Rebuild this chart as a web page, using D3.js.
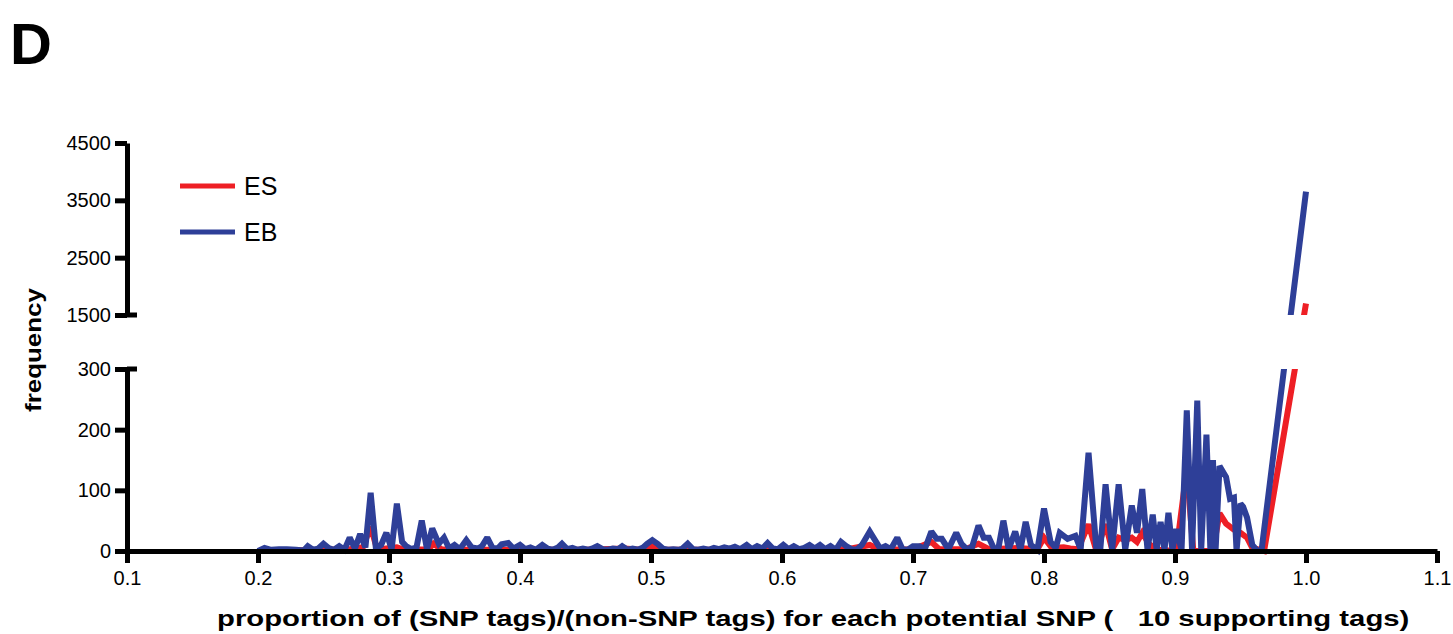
<!DOCTYPE html>
<html>
<head>
<meta charset="utf-8">
<script src="https://cdn.jsdelivr.net/npm/d3@7"></script>
<style>
  html, body { margin: 0; padding: 0; background: #fff; }
  svg { display: block; font-family: "Liberation Sans", Arial, sans-serif; }
</style>
</head>
<body>
<svg id="chart" width="1453" height="634"></svg>
<script>
// ---------------- DATA ----------------
const xTicks = [0.1, 0.2, 0.3, 0.4, 0.5, 0.6, 0.7, 0.8, 0.9, 1.0, 1.1];
const yTicksLower = [0, 100, 200, 300];
const yTicksUpper = [1500, 2500, 3500, 4500];
const seriesNames = ["ES", "EB"];

const esProp = [0.200,0.250,0.270,0.280,0.286,0.291,0.298,0.306,0.312,0.330,
  0.334,0.340,0.360,0.400,0.450,0.480,0.492,0.501,0.510,0.560,
  0.600,0.650,0.667,0.675,0.700,0.714,0.720,0.740,0.750,0.758,
  0.780,0.795,0.800,0.806,0.815,0.820,0.826,0.834,0.840,0.847,
  0.852,0.857,0.862,0.867,0.871,0.875,0.880,0.886,0.901,0.909,
  0.914,0.929,0.934,0.939,0.945,0.950,0.955,0.959,0.968,1.000];
const esFreq = [0,2,3,6,40,2,4,6,2,3,
  12,3,2,2,2,4,2,8,2,2,
  3,3,10,2,3,15,3,3,12,3,
  5,3,22,5,6,4,3,44,0,44,
  3,22,18,22,15,30,12,2,0,135,
  0,0,62,45,35,30,22,5,0,1700];

const ebProp = [0.200,0.205,0.210,0.216,0.222,0.229,0.235,0.238,0.242,0.246,
  0.250,0.254,0.258,0.262,0.266,0.270,0.274,0.278,0.282,0.286,
  0.290,0.294,0.298,0.302,0.306,0.310,0.313,0.317,0.321,0.325,
  0.329,0.333,0.338,0.342,0.346,0.350,0.354,0.359,0.363,0.368,
  0.371,0.375,0.379,0.383,0.386,0.391,0.395,0.400,0.404,0.408,
  0.412,0.417,0.421,0.425,0.429,0.432,0.436,0.440,0.444,0.448,
  0.452,0.456,0.459,0.463,0.467,0.471,0.475,0.478,0.482,0.486,
  0.490,0.494,0.497,0.501,0.505,0.509,0.513,0.517,0.521,0.524,
  0.528,0.532,0.536,0.540,0.544,0.548,0.552,0.556,0.560,0.564,
  0.568,0.573,0.577,0.581,0.585,0.589,0.593,0.597,0.601,0.605,
  0.609,0.613,0.617,0.621,0.625,0.629,0.633,0.637,0.641,0.645,
  0.649,0.653,0.657,0.661,0.667,0.671,0.675,0.679,0.683,0.688,
  0.692,0.696,0.700,0.705,0.709,0.714,0.718,0.722,0.727,0.733,
  0.737,0.741,0.745,0.750,0.754,0.758,0.762,0.765,0.769,0.773,
  0.778,0.782,0.786,0.790,0.795,0.800,0.805,0.809,0.812,0.818,
  0.824,0.828,0.834,0.840,0.843,0.847,0.852,0.857,0.862,0.867,
  0.871,0.875,0.879,0.883,0.886,0.889,0.892,0.895,0.898,0.901,
  0.905,0.909,0.913,0.917,0.920,0.924,0.927,0.929,0.931,0.934,
  0.939,0.942,0.945,0.947,0.950,0.952,0.955,0.959,0.963,0.966,
  1.000];
const ebFreq = [0,5,2,3,3,2,1,8,2,4,
  12,5,2,8,2,22,4,28,6,96,
  4,10,30,3,78,15,8,3,6,50,
  3,37,12,22,4,10,3,18,6,4,
  8,22,5,4,11,13,4,10,3,6,
  2,10,4,2,6,12,3,5,2,4,
  2,5,8,3,2,4,3,8,2,4,
  2,6,12,18,12,4,2,3,2,4,
  12,3,2,4,2,5,3,6,4,7,
  3,10,3,8,4,13,4,3,10,3,
  8,3,5,10,4,10,3,8,2,15,
  8,3,2,10,32,18,4,8,3,22,
  3,2,8,8,3,32,20,20,3,30,
  12,3,6,42,22,22,3,2,50,3,
  32,2,48,10,2,70,15,5,30,20,
  25,3,162,2,3,110,2,110,2,75,
  30,102,2,60,2,48,2,63,2,36,
  2,232,2,248,2,192,2,150,2,140,
  122,86,88,0,78,73,55,10,0,0,
  3650];

// ---------------- LAYOUT ----------------
const svg = d3.select("#chart");
const X0 = 127, X1 = 1437;
const yZero = 551, yLowTop = 369, yUpBot = 315, yUpTop = 143;
const blue = "#2e3f98", red = "#ee1f25";

const x = d3.scaleLinear().domain([0.1, 1.1]).range([X0, X1]);
// continuous piecewise scale across the break (lines drawn in pixel space, gap hidden)
const yAll = d3.scaleLinear().domain([0, 300, 1500, 4500]).range([yZero, yLowTop, yUpBot, yUpTop]);
const yLow = d3.scaleLinear().domain([0, 300]).range([yZero, yLowTop]);
const yUp = d3.scaleLinear().domain([1500, 4500]).range([yUpBot, yUpTop]);

const defs = svg.append("defs");
const cp = defs.append("clipPath").attr("id", "brk");
cp.append("rect").attr("x", 0).attr("y", 0).attr("width", 1453).attr("height", yUpBot);
cp.append("rect").attr("x", 0).attr("y", yLowTop).attr("width", 1453).attr("height", 634 - yLowTop);

const line = d3.line().x(d => x(d[0])).y(d => yAll(d[1]));
const esData = esProp.map((p, i) => [p, esFreq[i]]);
const ebData = ebProp.map((p, i) => [p, ebFreq[i]]);

const gLines = svg.append("g").attr("clip-path", "url(#brk)");
gLines.append("path").datum(esData).attr("d", line)
  .attr("fill", "none").attr("stroke", red).attr("stroke-width", 6)
  .attr("stroke-linejoin", "miter").attr("stroke-miterlimit", 2);
gLines.append("path").datum(ebData).attr("d", line)
  .attr("fill", "none").attr("stroke", blue).attr("stroke-width", 6)
  .attr("stroke-linejoin", "miter").attr("stroke-miterlimit", 2);

// ---------------- AXES ----------------
function styleAxis(g) {
  g.selectAll(".domain").attr("stroke", "#000").attr("stroke-width", 5);
  g.selectAll(".tick line").attr("stroke", "#000").attr("stroke-width", 5);
  g.selectAll(".tick text").attr("fill", "#000")
    .style("font-family", "'Liberation Sans', Arial, sans-serif").style("font-size", "20px");
}

const gxa = svg.append("g").attr("transform", `translate(0,${yZero})`)
  .call(d3.axisBottom(x).tickValues(xTicks).tickFormat(d3.format(".1f"))
    .tickSize(12).tickSizeOuter(0).tickPadding(8));
styleAxis(gxa);

const gyl = svg.append("g").attr("transform", `translate(${X0},0)`)
  .call(d3.axisLeft(yLow).tickValues(yTicksLower).tickFormat(d3.format("d"))
    .tickSize(12).tickSizeOuter(0).tickPadding(4));
styleAxis(gyl);

const gyu = svg.append("g").attr("transform", `translate(${X0},0)`)
  .call(d3.axisLeft(yUp).tickValues(yTicksUpper).tickFormat(d3.format("d"))
    .tickSize(12).tickSizeOuter(0).tickPadding(4));
styleAxis(gyu);

// break markers extending to the right
[yLow(300), yUp(1500)].forEach(yy => {
  svg.append("line").attr("x1", X0).attr("x2", X0 + 10).attr("y1", yy).attr("y2", yy)
    .attr("stroke", "#000").attr("stroke-width", 5);
});

// ---------------- LEGEND ----------------
const legend = svg.append("g");
[[seriesNames[0], red, 186], [seriesNames[1], blue, 232]].forEach(([name, col, yy]) => {
  legend.append("line").attr("x1", 180).attr("x2", 235).attr("y1", yy).attr("y2", yy)
    .attr("stroke", col).attr("stroke-width", 5);
  legend.append("text").attr("x", 244).attr("y", yy + 9).text(name)
    .style("font-size", "25px").attr("fill", "#000");
});

// ---------------- LABELS ----------------
svg.append("text").attr("x", 10).attr("y", 64).text("D")
  .style("font-size", "58px").style("font-weight", "bold").attr("fill", "#000");

// stretched bold labels (wide glyphs as in the reference)
function stretchedText(parent, str, size, targetW) {
  const t = parent.append("text").text(str)
    .style("white-space", "pre")
    .style("font-size", size + "px").style("font-weight", "bold").attr("fill", "#000");
  const w = t.node().getComputedTextLength();
  return { node: t, k: targetW / w };
}

const yl = svg.append("g");
const ylt = stretchedText(yl, "frequency", 22, 124);
ylt.node.attr("text-anchor", "middle");
yl.attr("transform", `translate(41,350) rotate(-90) scale(${ylt.k},1)`);

const xl = svg.append("g");
const xlt = stretchedText(xl, "proportion of (SNP tags)/(non-SNP tags) for each potential SNP (   10 supporting tags)", 22, 1193);
xl.attr("transform", `translate(217,626) scale(${xlt.k},1)`);
</script>
</body>
</html>
